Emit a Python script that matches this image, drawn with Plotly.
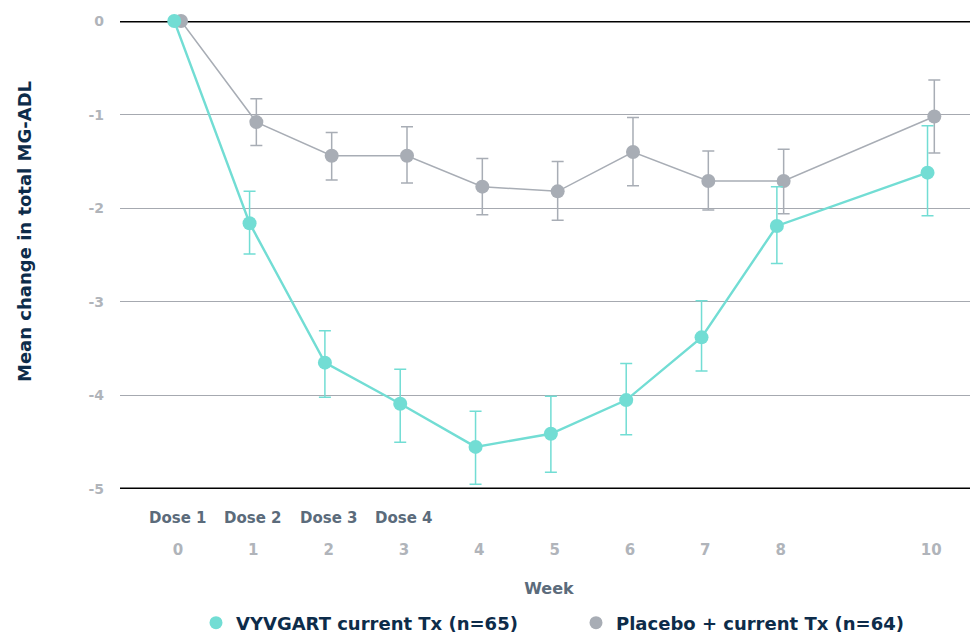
import plotly.graph_objects as go

weeks = [0, 1, 2, 3, 4, 5, 6, 7, 8, 10]
vyv_mean = [0.0, -2.16, -3.65, -4.09, -4.55, -4.41, -4.05, -3.38, -2.19, -1.62]
vyv_upper = [0.0, -1.82, -3.31, -3.72, -4.17, -4.01, -3.66, -2.99, -1.77, -1.12]
vyv_lower = [0.0, -2.49, -4.02, -4.50, -4.95, -4.82, -4.42, -3.74, -2.59, -2.08]
pbo_mean = [0.0, -1.08, -1.44, -1.44, -1.77, -1.82, -1.40, -1.71, -1.71, -1.02]
pbo_upper = [0.0, -0.83, -1.19, -1.13, -1.47, -1.50, -1.03, -1.39, -1.37, -0.63]
pbo_lower = [0.0, -1.33, -1.70, -1.73, -2.07, -2.13, -1.76, -2.02, -2.06, -1.41]
dose_labels = ["Dose 1", "Dose 2", "Dose 3", "Dose 4"]
dose_weeks = [0, 1, 2, 3]
y_ticks = [0, -1, -2, -3, -4, -5]
vyv_name = "VYVGART current Tx (n=65)"
pbo_name = "Placebo + current Tx (n=64)"

TEAL = "#72ddd4"
GRAY = "#a8adb5"
NAVY = "#0d2c4a"
SLATE = "#5b6b7b"
TICK = "#b0b4ba"
FONT = "DejaVu Sans"

# page body has an 8px margin; figure is sized to fill the rest of the window
W, H = 970, 625
OFF = 8

fig = go.Figure()

def add_series(mean, up, lo, color, offset, lw):
    fig.add_trace(go.Scatter(
        x=[w + offset for w in weeks], y=mean,
        mode="lines+markers", showlegend=False,
        line=dict(color=color, width=lw),
        marker=dict(color=color, size=14),
        error_y=dict(type="data", symmetric=False,
                     array=[u - m for u, m in zip(up, mean)],
                     arrayminus=[m - l for m, l in zip(mean, lo)],
                     color=color, thickness=1.5, width=6),
        cliponaxis=False,
    ))

add_series(pbo_mean, pbo_upper, pbo_lower, GRAY, 0.04, 1.5)
add_series(vyv_mean, vyv_upper, vyv_lower, TEAL, -0.05, 2.4)

# legend-only entries (dot symbols)
fig.add_trace(go.Scatter(x=[None], y=[None], mode="markers", name=vyv_name,
                         marker=dict(color=TEAL, size=13), legend="legend"))
fig.add_trace(go.Scatter(x=[None], y=[None], mode="markers", name=pbo_name,
                         marker=dict(color=GRAY, size=13), legend="legend2"))

for yv in [0, -5]:
    fig.add_shape(type="line", xref="paper", x0=0, x1=1, yref="y", y0=yv, y1=yv,
                  line=dict(color="black", width=3), layer="below")

for lab, w in zip(dose_labels, dose_weeks):
    fig.add_annotation(x=w, y=-0.062, xref="x", yref="paper", text="<b>%s</b>" % lab,
                       showarrow=False, font=dict(family=FONT, size=15, color=SLATE),
                       yanchor="middle")

fig.add_annotation(x=(25 - 120) / 858, y=(489 - 232) / 468, xref="paper", yref="paper",
                   xanchor="center", yanchor="middle",
                   text="<b>Mean change in total MG-ADL</b>", textangle=-90,
                   showarrow=False, font=dict(family=FONT, size=18, color=NAVY))

leg_common = dict(orientation="h", xref="container", yref="container",
                  xanchor="left", yanchor="middle", y=1 - (623 - OFF) / H,
                  font=dict(family=FONT, size=18, color=NAVY, weight="bold"),
                  bgcolor="rgba(0,0,0,0)")

fig.update_layout(
    width=W, height=H,
    margin=dict(l=120 - OFF, r=0, t=21 - OFF, b=H - (489 - OFF), autoexpand=False),
    paper_bgcolor="white", plot_bgcolor="white",
    font=dict(family=FONT),
    showlegend=True,
    legend=dict(x=(216 - OFF - 20) / W, **leg_common),
    legend2=dict(x=(596 - OFF - 20) / W, **leg_common),
    xaxis=dict(range=[-0.77, 10.62], tickvals=weeks, ticktext=[str(w) for w in weeks],
               showgrid=False, zeroline=False, showline=False, automargin=False,
               tickfont=dict(family=FONT, size=15, color=TICK, weight="bold"),
               ticklabelstandoff=50,
               title=dict(text="<b>Week</b>", font=dict(family=FONT, size=16, color=SLATE),
                          standoff=24)),
    yaxis=dict(range=[-5, 0], tickvals=y_ticks, ticktext=[str(v) for v in y_ticks],
               showgrid=True, gridcolor="#a6a9b0", gridwidth=1, zeroline=False,
               showline=False, automargin=False,
               tickfont=dict(family=FONT, size=14, color=TICK, weight="bold"),
               ticklabelstandoff=15),
)

fig.write_html("out.html")
